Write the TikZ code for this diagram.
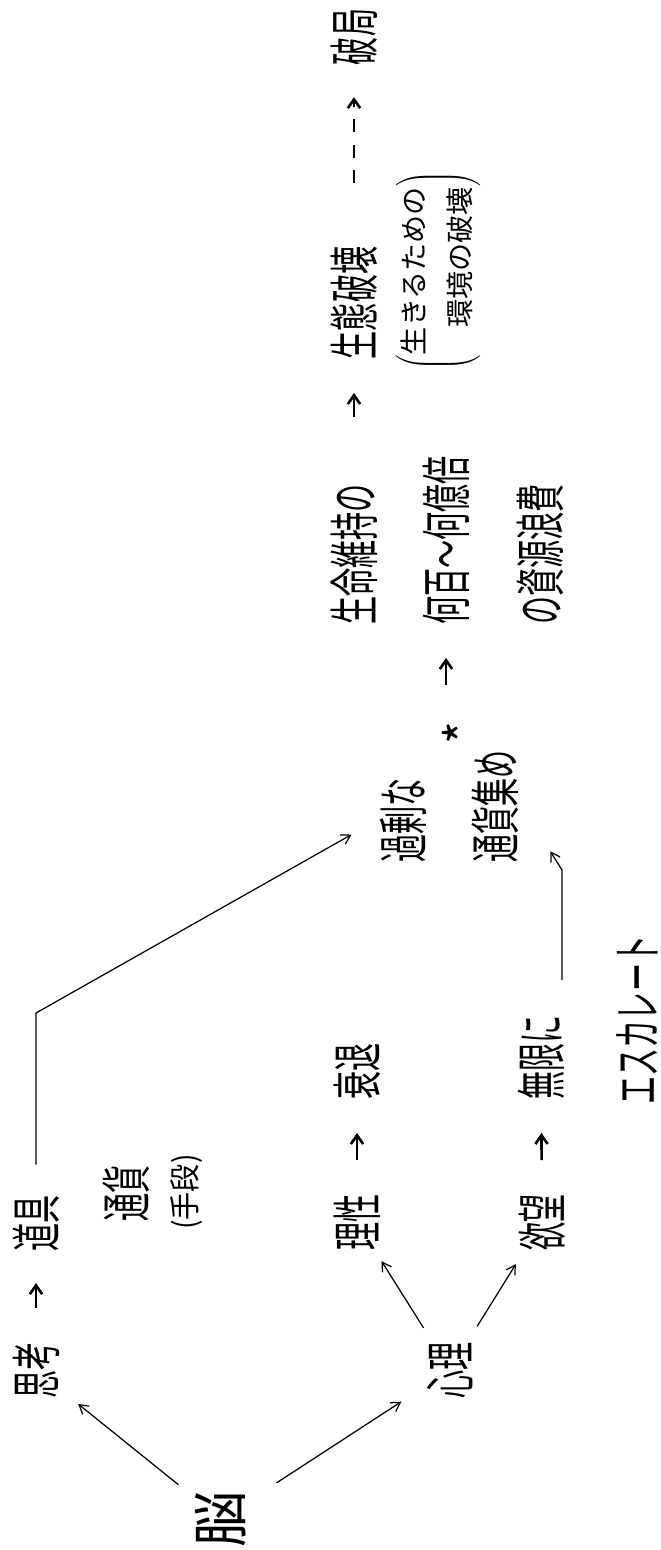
\documentclass[tikz,border=0pt]{standalone}
\usepackage{fontspec}
\usetikzlibrary{arrows,arrows.meta,positioning}
\newfontfamily\jp{Noto Sans CJK JP}

\tikzset{
  word/.style={rotate=90,yscale=1.8,inner sep=1pt,font=\jp\fontsize{16}{19}\selectfont},
  note/.style={rotate=90,inner sep=1pt,font=\jp\fontsize{16}{26.5}\selectfont},
  link/.style={-{Straight Barb[length=5pt,width=6pt]},line width=0.7pt},
  hop/.style={-{Straight Barb[length=5pt,width=7pt]},line width=1.5pt}
}

\begin{document}
\begin{tikzpicture}[x=0.02cm,y=-0.02cm]
\useasboundingbox (0,0) rectangle (660,1550);
% upper chain
\node[word] (ruin) at (354,37) {破局};
\node[word] (eco) at (354,303) {生態破壊};
\node[note] (env) at (438,271)
  {$\left(\begin{tabular}{@{}r@{}}生きるための\\環境の破壊\end{tabular}\right)$};
\node[word,anchor=west] (life) at (354,627) {生命維持の};
\node[word,anchor=west] (times) at (446,627) {何百〜何億倍};
\node[word,anchor=west] (waste) at (540,627) {の資源浪費};
\node[note,font=\jp\fontsize{28}{30}\selectfont] (star) at (462,733) {*};
\node[word,anchor=west] (excess) at (403,865) {過剰な};
\node[word,anchor=west] (collect) at (495,865) {通貨集め};
% lower part
\node[word] (escalate) at (637,1020) {エスカレート};
\node[word,anchor=west] (decline) at (357,1102) {衰退};
\node[word,anchor=west] (limitless) at (541,1102) {無限に};
\node[word] (tool) at (36,1223) {道具};
\node[word] (money) at (126,1193) {通貨};
\node[note,yscale=1.1] (means) at (187,1192) {(手段)};
\node[word] (reason) at (357,1222) {理性};
\node[word] (desire) at (542,1222) {欲望};
\node[word] (think) at (36,1370) {思考};
\node[word] (mind) at (450,1370) {心理};
\node[note,font=\jp\fontsize{32}{34}\selectfont] (brain) at (221,1519) {脳};

\coordinate (bend) at (36,1013);
\coordinate (hook) at (562,870);

\draw[link,shorten <=11pt,shorten >=11pt] (brain) -- (think);
\draw[link,shorten <=19pt,shorten >=15pt] (brain) -- (mind);
\draw[link,shorten <=8pt,shorten >=6pt] (mind) -- (reason);
\draw[link,shorten <=9pt,shorten >=8pt] (mind) -- (desire);
\draw[hop,shorten <=18pt,shorten >=17pt] (think) -- (tool);
\draw[hop,shorten <=18pt,shorten >=17.6pt] (reason) -- (decline);
\draw[hop,shorten <=18pt,shorten >=17.6pt] (desire) -- (limitless);
\draw[link,shorten <=16pt,shorten >=16pt] (tool.east) -- (bend) -- (excess.north);
\draw[link,shorten <=19pt,shorten >=30pt] (hook |- limitless.east) -- (hook) -- (collect.south);
\draw[hop,shorten <=36pt,shorten >=17.6pt] (collect.east -| times.west) -- (times.west);
\draw[hop,shorten <=37pt,shorten >=18pt] (life) -- (eco);
\draw[hop,dash pattern=on 7.5pt off 7pt,shorten <=35pt,shorten >=17pt] (eco) -- (ruin);
\end{tikzpicture}
\end{document}
